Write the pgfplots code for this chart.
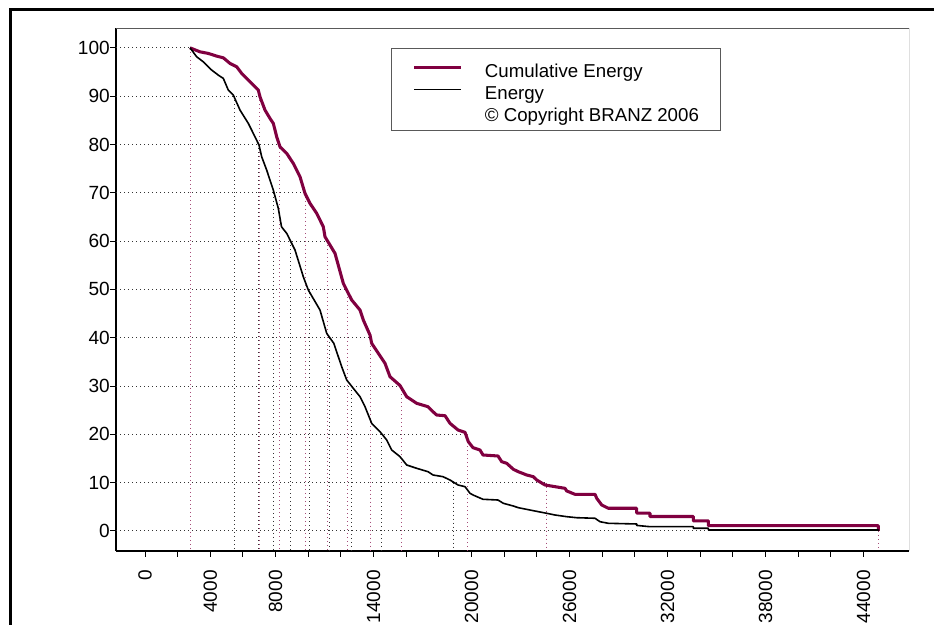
\documentclass[border=0pt]{standalone}
\usepackage{pgfplots}
\pgfplotsset{compat=1.18}
\usepackage{fontspec}
\setmainfont{Liberation Sans}
\definecolor{cumred}{RGB}{128,0,64}
\begin{document}
\begin{tikzpicture}[x=1pt,y=1pt]
\useasboundingbox (0,0) rectangle (700.5,468);
\draw[line width=2.25pt] (7.5,-5) -- (7.5,460.5) -- (710,460.5);
\begin{axis}[
  at={(87pt,54.975pt)}, anchor=south west,
  scale only axis, width=594.75pt, height=391.65pt,
  xmin=-1776, xmax=46785, ymin=-4.08, ymax=104,
  axis x line*=bottom, axis y line*=left,
  x axis line style={-, line width=1.5pt},
  y axis line style={-, line width=1.5pt},
  xtick={0,2000,...,44000},
  xticklabels={0,{},4000,{},8000,{},{},14000,{},{},20000,{},{},26000,{},{},32000,{},{},38000,{},{},44000},
  ytick={0,10,...,100},
  scaled x ticks=false,
  tick align=outside, major tick length=4.5pt,
  tick style={black, line width=0.75pt},
  xticklabel style={rotate=90, anchor=east, inner sep=0pt},
  yticklabel style={anchor=east, inner sep=0pt},
  xticklabel shift=10pt, yticklabel shift=0pt,
  ticklabel style={font=\fontsize{14.3}{14}\selectfont},
  /pgf/number format/assume math mode=true,
  legend style={at={(0.3468,0.9627)}, anchor=north west, draw=gray!70!black,
    line width=0.75pt, fill=white, inner xsep=16pt, inner ysep=2pt, row sep=-8pt,
    font=\fontsize{14}{14}\selectfont,
    nodes={inner sep=0pt, text height=19.75pt, text depth=4.75pt},
    /tikz/every odd column/.append style={column sep=16.5pt}},
  legend cell align=left,
  legend image code/.code={\draw[#1] (0pt,0pt) -- (35.25pt,0pt);},
  grd/.style={black!80, line width=0.75pt, dash pattern=on 0.75pt off 2.25pt, forget plot},
  grdr/.style={cumred!70, line width=0.75pt, dash pattern=on 0.75pt off 2.25pt, forget plot},
]
% horizontal level lines
\addplot[grd] coordinates {(-1776,100) (2756,100)};
\addplot[grd] coordinates {(-1776,90) (6981,90)};
\addplot[grd] coordinates {(-1776,80) (8206,80)};
\addplot[grd] coordinates {(-1776,70) (9798,70)};
\addplot[grd] coordinates {(-1776,60) (11200,60)};
\addplot[grd] coordinates {(-1776,50) (12400,50)};
\addplot[grd] coordinates {(-1776,40) (13778,40)};
\addplot[grd] coordinates {(-1776,30) (15677,30)};
\addplot[grd] coordinates {(-1776,20) (19718,20)};
\addplot[grd] coordinates {(-1776,10) (24556,10)};
\addplot[grd] coordinates {(-1776,0) (44887,0)};
% drop lines, Energy
\addplot[grd] coordinates {(5450,90) (5450,-4.08)};
\addplot[grd] coordinates {(6960,80) (6960,-4.08)};
\addplot[grd] coordinates {(7838,70) (7838,-4.08)};
\addplot[grd] coordinates {(8879,60) (8879,-4.08)};
\addplot[grd] coordinates {(10043,50) (10043,-4.08)};
\addplot[grd] coordinates {(11268,40) (11268,-4.08)};
\addplot[grd] coordinates {(12615,30) (12615,-4.08)};
\addplot[grd] coordinates {(14452,20) (14452,-4.08)};
\addplot[grd] coordinates {(18861,10) (18861,-4.08)};
% drop lines, Cumulative Energy
\addplot[grdr] coordinates {(2756,100) (2756,-4.08)};
\addplot[grdr] coordinates {(6981,90) (6981,-4.08)};
\addplot[grdr] coordinates {(8206,80) (8206,-4.08)};
\addplot[grdr] coordinates {(9798,70) (9798,-4.08)};
\addplot[grdr] coordinates {(11200,60) (11200,-4.08)};
\addplot[grdr] coordinates {(12400,50) (12400,-4.08)};
\addplot[grdr] coordinates {(13778,40) (13778,-4.08)};
\addplot[grdr] coordinates {(15677,30) (15677,-4.08)};
\addplot[grdr] coordinates {(19718,20) (19718,-4.08)};
\addplot[grdr] coordinates {(24556,10) (24556,-4.08)};
\addplot[grdr] coordinates {(44887,0) (44887,-4.08)};
% Cumulative Energy
\addplot[cumred, line width=2.3pt, line join=round] coordinates {
(2756,100) (3368,99.17) (3876,98.84) (4391,98.28) (4795,97.93) (5205,96.77) (5615,96.07) (5922,94.70) (6430,92.97) (6938,91.25) (7042,89.86) (7348,87.11) (7654,85.39) (7857,84.36) (8065,81.58) (8267,79.52) (8677,78.15) (9081,76.08) (9492,73.31) (9798,69.87) (10104,67.80) (10514,65.74) (10919,62.96) (11023,60.89) (11635,57.46) (12144,51.25) (12450,49.18) (12658,47.80) (13166,45.73) (13368,43.66) (13778,40.55) (13882,38.84) (14287,36.77) (14697,34.70) (15003,31.93) (15615,30.11) (16025,27.79) (16638,26.42) (17330,25.72) (17636,24.68) (17863,24.00) (18371,23.86) (18677,22.28) (19167,20.90) (19596,20.42) (19798,18.48) (20086,17.24) (20514,16.76) (20698,15.73) (21617,15.52) (21843,14.34) (22149,14.01) (22554,12.77) (22860,12.27) (23374,11.59) (23778,11.24) (23986,10.55) (24495,9.52) (25107,9.17) (25719,8.83) (25824,8.28) (26332,7.59) (27557,7.59) (27661,6.77) (27967,5.38) (28371,4.70) (30110,4.70) (30110,3.7) (30925,3.7) (30925,3.0) (33576,3.0) (33576,2.1) (34495,2.1) (34495,1.1) (44905,1.1) (44905,0)};
\addlegendentry{Cumulative Energy}
% Energy
\addplot[black, line width=1.2pt, line join=round] coordinates {
(2756,100) (3166,98.14) (3570,97.10) (4085,95.39) (4489,94.35) (4795,93.67) (5101,91.25) (5407,90.22) (5818,87.11) (6326,84.36) (6736,81.58) (6981,79.87) (7146,77.45) (7452,74.69) (7857,70.56) (8163,66.77) (8359,62.96) (8677,61.60) (9186,58.15) (9694,52.62) (10000,49.87) (10716,45.73) (11127,40.9) (11560,38.84) (12045,34.00) (12352,31.24) (12756,29.53) (13166,27.79) (13472,25.72) (13882,22.28) (14391,20.55) (14801,18.83) (15107,16.76) (15615,15.38) (16025,13.66) (16638,12.97) (17330,12.27) (17636,11.59) (18248,11.24) (18677,10.55) (19167,9.52) (19596,9.17) (19902,7.80) (20086,7.45) (20698,6.56) (21617,6.41) (21942,5.73) (22554,5.17) (22860,4.82) (23778,4.20) (24599,3.66) (25107,3.31) (25824,2.96) (26436,2.75) (27557,2.63) (27863,1.92) (28371,1.59) (30110,1.45) (30110,1.15) (30925,0.89) (33576,0.89) (33576,0.56) (34495,0.56) (34495,0.2) (44905,0.2) (44905,0)};
\addlegendentry{Energy}
\addlegendimage{empty legend}
\addlegendentry{© Copyright BRANZ 2006}
\draw[gray!70!black, line width=0.75pt] (rel axis cs:0,1) -- (rel axis cs:1,1);
\draw[black, line width=0.75pt] (rel axis cs:1,1) -- (rel axis cs:1,0);
\end{axis}
\end{tikzpicture}
\end{document}
